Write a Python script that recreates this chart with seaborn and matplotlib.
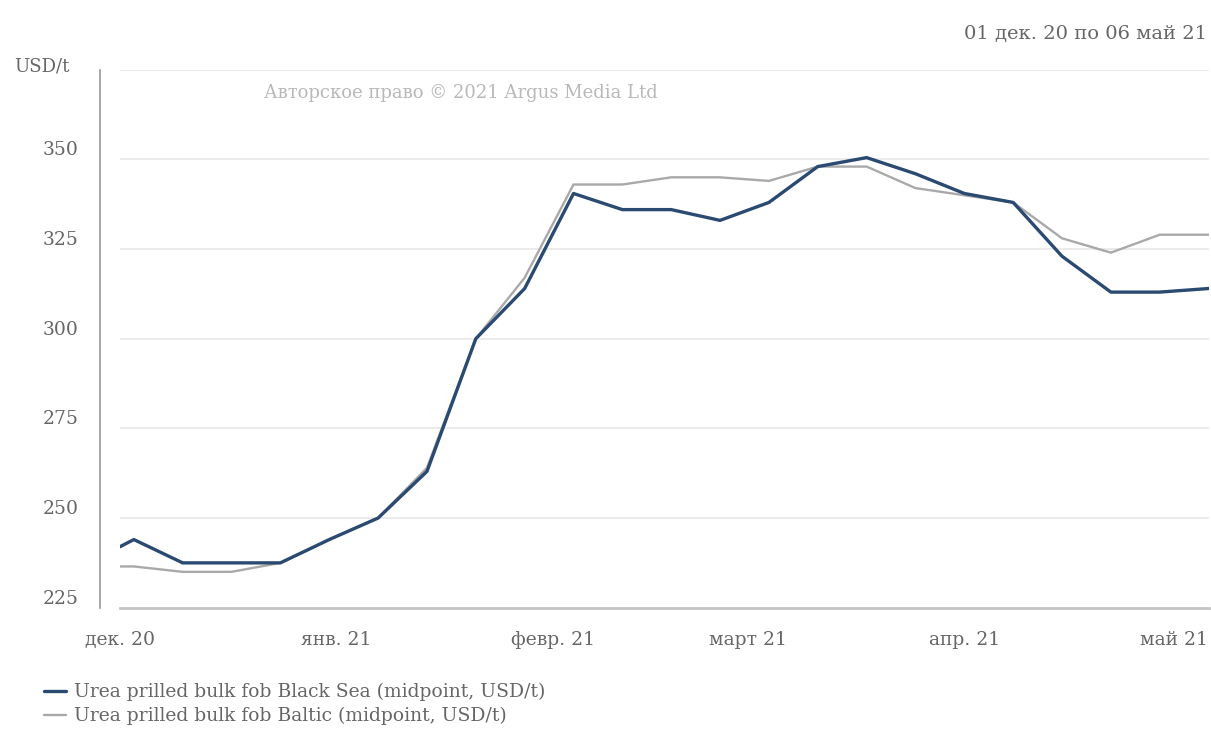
import pandas as pd
import numpy as np
import matplotlib
matplotlib.use("Agg")
import matplotlib.pyplot as plt
import matplotlib.transforms as mtransforms
from matplotlib.lines import Line2D
import seaborn as sns

# Data (weekly assessments)
dates = ["2020-12-01", "2020-12-03", "2020-12-10", "2020-12-17", "2020-12-24",
         "2020-12-31", "2021-01-07", "2021-01-14", "2021-01-21", "2021-01-28",
         "2021-02-04", "2021-02-11", "2021-02-18", "2021-02-25", "2021-03-04",
         "2021-03-11", "2021-03-18", "2021-03-25", "2021-04-01", "2021-04-08",
         "2021-04-15", "2021-04-22", "2021-04-29", "2021-05-06"]
black_sea = [242, 244, 237.5, 237.5, 237.5, 244, 250, 263, 300, 314,
             340.5, 336, 336, 333, 338, 348, 350.5, 346, 340.5, 338,
             323, 313, 313, 314]
baltic = [236.5, 236.5, 235, 235, 237.5, 244, 250, 264, 300, 317,
          343, 343, 345, 345, 344, 348, 348, 342, 340, 338,
          328, 324, 329, 329]
series_names = ["Urea prilled bulk fob Black Sea (midpoint, USD/t)",
                "Urea prilled bulk fob Baltic (midpoint, USD/t)"]
month_ticks = ["2020-12-01", "2021-01-01", "2021-02-01", "2021-03-01",
               "2021-04-01", "2021-05-01"]
month_labels = ["дек. 20", "янв. 21", "февр. 21", "март 21", "апр. 21", "май 21"]
y_ticks = [225, 250, 275, 300, 325, 350, 375]

colors = {series_names[0]: "#2b4a72", series_names[1]: "#a9a9a9"}
widths = {series_names[0]: 2.4, series_names[1]: 1.7}
text_color = "#666666"

df = pd.DataFrame({
    "date": pd.to_datetime(dates * 2),
    "value": black_sea + baltic,
    "series": [series_names[0]] * len(dates) + [series_names[1]] * len(dates),
})

sns.set_theme(style="white")
plt.rcParams["font.family"] = ["DejaVu Serif"]

fig = plt.figure(figsize=(12.11, 7.42), dpi=100)
ax = fig.add_axes([0.099, 0.181, 0.899, 0.725])

# draw Baltic first so Black Sea is on top
for name in [series_names[1], series_names[0]]:
    sns.lineplot(data=df[df["series"] == name], x="date", y="value",
                 color=colors[name], linewidth=widths[name], ax=ax,
                 legend=False)

ax.set_xlim(pd.Timestamp("2020-12-01"), pd.Timestamp("2021-05-06"))
ax.set_ylim(225, 375)
ax.set_yticks(y_ticks[:-1])
ax.set_xticks(pd.to_datetime(month_ticks))
ax.set_xticklabels(month_labels)
ax.set_xlabel("")
ax.set_ylabel("")

for y in y_ticks[1:]:
    ax.axhline(y, color="#e8e8e8", linewidth=1.2, zorder=0)

sns.despine(ax=ax, offset={"left": 14}, top=True, right=True)
ax.spines["left"].set_color("#9a9a9a")
ax.spines["left"].set_linewidth(1.2)
ax.spines["bottom"].set_color("#c4c4c4")
ax.spines["bottom"].set_linewidth(2)

ax.tick_params(axis="y", length=10, width=1, color="#cccccc", pad=6,
               labelsize=13.5, labelcolor=text_color)
ax.tick_params(axis="x", length=8, width=1, color="#cccccc", pad=13,
               labelsize=13.5, labelcolor=text_color, direction="inout")
# y labels sit slightly above their gridline
off = mtransforms.ScaledTranslation(0, 8 / 72, fig.dpi_scale_trans)
for lbl in ax.get_yticklabels():
    lbl.set_transform(lbl.get_transform() + off)

fig.text(0.012, 0.903, "USD/t", fontsize=13, color=text_color)
fig.text(0.997, 0.948, "01 дек. 20 по 06 май 21", fontsize=14,
         color=text_color, ha="right")
fig.text(0.218, 0.868, "Авторское право © 2021 Argus Media Ltd", fontsize=13,
         color="#b8b8b8")

handles = [Line2D([], [], color=colors[n], linewidth=widths[n]) for n in series_names]
fig.legend(handles, series_names, loc="lower left", bbox_to_anchor=(0.022, 0.0),
           frameon=False, fontsize=13.5, labelcolor=text_color, handlelength=1.2,
           handletextpad=0.4, labelspacing=0.3)

fig.savefig("out.png", dpi=100)
